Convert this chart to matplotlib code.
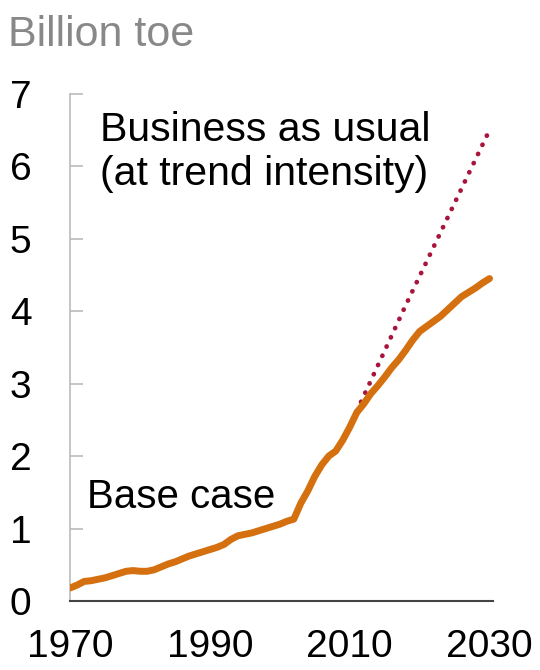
import matplotlib.pyplot as plt
import numpy as np

# Base case (billion toe)
years = np.arange(1970, 2031)
base_case = [0.18, 0.22, 0.27, 0.28, 0.30, 0.32, 0.35, 0.38, 0.41, 0.42,
             0.41, 0.41, 0.43, 0.47, 0.51, 0.54, 0.58, 0.62, 0.65, 0.68,
             0.71, 0.74, 0.78, 0.85, 0.90, 0.92, 0.94, 0.97, 1.00, 1.03,
             1.06, 1.10, 1.13, 1.35, 1.52, 1.72, 1.88, 2.00, 2.07, 2.22,
             2.40, 2.60, 2.72, 2.86, 2.97, 3.09, 3.22, 3.33, 3.46, 3.60,
             3.72, 3.79, 3.86, 3.93, 4.02, 4.11, 4.20, 4.26, 4.32, 4.39,
             4.45]

# Business as usual (at trend intensity)
bau_years = [2011, 2018, 2030]
bau_values = [2.62, 4.08, 6.50]

xticks = [1970, 1990, 2010, 2030]
yticks = [0, 1, 2, 3, 4, 5, 6, 7]

plt.rcParams['font.family'] = ['Liberation Sans', 'DejaVu Sans']

fig = plt.figure(figsize=(5.4, 6.7), dpi=100)
ax = fig.add_axes([0.13, 0.103, 0.783, 0.757])

ax.plot(years, base_case, color='#d4700f', lw=5, solid_capstyle='round', zorder=3)
ax.plot(bau_years, bau_values, color='#a8143c', lw=3.4,
        linestyle=(0, (0.05, 2.1)), dash_capstyle='round', zorder=2)

ax.set_xlim(1970, 2030.5)
ax.set_ylim(0, 7)
ax.set_xticks(xticks)
ax.set_yticks(yticks)

for s in ['top', 'right']:
    ax.spines[s].set_visible(False)
ax.spines['left'].set_color('#bbbbbb')
ax.spines['left'].set_linewidth(1.2)
ax.spines['bottom'].set_color('#444444')
ax.spines['bottom'].set_linewidth(1.5)

ax.tick_params(axis='y', direction='in', length=9, width=1.2, color='#bbbbbb',
               labelsize=28, pad=28)
ax.tick_params(axis='x', length=0, labelsize=28, pad=20)

ax.text(1974.3, 6.2, 'Business as usual\n(at trend intensity)', fontsize=29.5,
        va='center', ha='left', linespacing=1.2)
ax.text(1972.4, 1.43, 'Base case', fontsize=29, va='center', ha='left')

fig.text(0.015, 0.948, 'Billion toe', fontsize=31, color='#888888',
         va='center', ha='left')

fig.savefig('out.png', dpi=100)
